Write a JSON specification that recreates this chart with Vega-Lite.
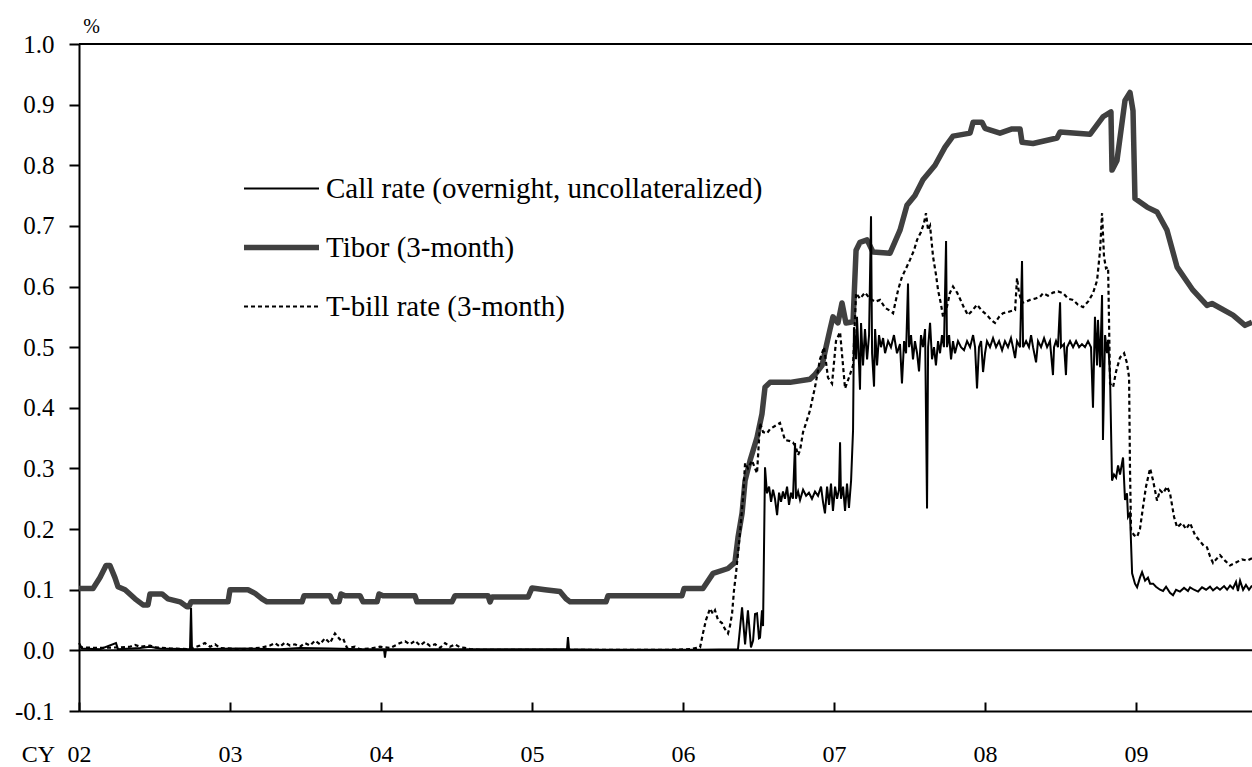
{
  "$schema": "https://vega.github.io/schema/vega-lite/v6.json",
  "width": 1173,
  "height": 667,
  "autosize": {"type": "none"},
  "padding": {"left": 79, "top": 44, "right": 0, "bottom": 56},
  "background": "white",
  "config": {"font": "Liberation Serif", "view": {"stroke": null}},
  "datasets": {
    "tibor": [
      {"year": 2002.000, "rate": 0.102}, {"year": 2002.093, "rate": 0.102}, {"year": 2002.139, "rate": 0.12}, {"year": 2002.179, "rate": 0.14},
      {"year": 2002.205, "rate": 0.14}, {"year": 2002.238, "rate": 0.12}, {"year": 2002.258, "rate": 0.105}, {"year": 2002.305, "rate": 0.1},
      {"year": 2002.371, "rate": 0.085}, {"year": 2002.424, "rate": 0.075}, {"year": 2002.457, "rate": 0.075}, {"year": 2002.470, "rate": 0.093},
      {"year": 2002.550, "rate": 0.093}, {"year": 2002.589, "rate": 0.085}, {"year": 2002.669, "rate": 0.08}, {"year": 2002.715, "rate": 0.072},
      {"year": 2002.728, "rate": 0.072}, {"year": 2002.742, "rate": 0.08}, {"year": 2002.987, "rate": 0.08}, {"year": 2003.000, "rate": 0.1},
      {"year": 2003.119, "rate": 0.1}, {"year": 2003.166, "rate": 0.094}, {"year": 2003.212, "rate": 0.085}, {"year": 2003.245, "rate": 0.08},
      {"year": 2003.477, "rate": 0.08}, {"year": 2003.490, "rate": 0.09}, {"year": 2003.662, "rate": 0.09}, {"year": 2003.682, "rate": 0.08},
      {"year": 2003.722, "rate": 0.08}, {"year": 2003.735, "rate": 0.093}, {"year": 2003.762, "rate": 0.09}, {"year": 2003.861, "rate": 0.09},
      {"year": 2003.881, "rate": 0.08}, {"year": 2003.974, "rate": 0.08}, {"year": 2003.987, "rate": 0.093}, {"year": 2004.013, "rate": 0.09},
      {"year": 2004.225, "rate": 0.09}, {"year": 2004.238, "rate": 0.08}, {"year": 2004.470, "rate": 0.08}, {"year": 2004.490, "rate": 0.09},
      {"year": 2004.709, "rate": 0.09}, {"year": 2004.722, "rate": 0.08}, {"year": 2004.735, "rate": 0.088}, {"year": 2004.974, "rate": 0.088},
      {"year": 2005.000, "rate": 0.103}, {"year": 2005.086, "rate": 0.1}, {"year": 2005.185, "rate": 0.097}, {"year": 2005.225, "rate": 0.085},
      {"year": 2005.252, "rate": 0.08}, {"year": 2005.490, "rate": 0.08}, {"year": 2005.503, "rate": 0.09}, {"year": 2005.993, "rate": 0.09},
      {"year": 2006.007, "rate": 0.102}, {"year": 2006.132, "rate": 0.102}, {"year": 2006.199, "rate": 0.127}, {"year": 2006.298, "rate": 0.135},
      {"year": 2006.344, "rate": 0.145}, {"year": 2006.364, "rate": 0.186}, {"year": 2006.391, "rate": 0.226}, {"year": 2006.411, "rate": 0.28},
      {"year": 2006.444, "rate": 0.313}, {"year": 2006.490, "rate": 0.351}, {"year": 2006.523, "rate": 0.39}, {"year": 2006.543, "rate": 0.434},
      {"year": 2006.576, "rate": 0.442}, {"year": 2006.709, "rate": 0.442}, {"year": 2006.841, "rate": 0.447}, {"year": 2006.874, "rate": 0.455},
      {"year": 2006.921, "rate": 0.47}, {"year": 2006.947, "rate": 0.5}, {"year": 2006.974, "rate": 0.53}, {"year": 2006.993, "rate": 0.55},
      {"year": 2007.026, "rate": 0.54}, {"year": 2007.053, "rate": 0.573}, {"year": 2007.079, "rate": 0.54}, {"year": 2007.126, "rate": 0.542},
      {"year": 2007.146, "rate": 0.66}, {"year": 2007.172, "rate": 0.673}, {"year": 2007.219, "rate": 0.677}, {"year": 2007.258, "rate": 0.657},
      {"year": 2007.371, "rate": 0.655}, {"year": 2007.437, "rate": 0.693}, {"year": 2007.483, "rate": 0.734}, {"year": 2007.536, "rate": 0.75},
      {"year": 2007.589, "rate": 0.776}, {"year": 2007.669, "rate": 0.8}, {"year": 2007.735, "rate": 0.83}, {"year": 2007.788, "rate": 0.848},
      {"year": 2007.901, "rate": 0.853}, {"year": 2007.921, "rate": 0.871}, {"year": 2007.980, "rate": 0.871}, {"year": 2008.000, "rate": 0.861},
      {"year": 2008.099, "rate": 0.853}, {"year": 2008.179, "rate": 0.86}, {"year": 2008.232, "rate": 0.86}, {"year": 2008.245, "rate": 0.838},
      {"year": 2008.318, "rate": 0.836}, {"year": 2008.477, "rate": 0.845}, {"year": 2008.497, "rate": 0.855}, {"year": 2008.695, "rate": 0.851},
      {"year": 2008.781, "rate": 0.88}, {"year": 2008.834, "rate": 0.888}, {"year": 2008.841, "rate": 0.792}, {"year": 2008.874, "rate": 0.808},
      {"year": 2008.927, "rate": 0.907}, {"year": 2008.960, "rate": 0.92}, {"year": 2008.980, "rate": 0.89}, {"year": 2008.993, "rate": 0.745},
      {"year": 2009.073, "rate": 0.731}, {"year": 2009.139, "rate": 0.723}, {"year": 2009.205, "rate": 0.693}, {"year": 2009.272, "rate": 0.632},
      {"year": 2009.377, "rate": 0.594}, {"year": 2009.470, "rate": 0.569}, {"year": 2009.503, "rate": 0.572}, {"year": 2009.642, "rate": 0.553},
      {"year": 2009.722, "rate": 0.536}, {"year": 2009.768, "rate": 0.541}
    ],
    "tbill": [
      {"year": 2002.000, "rate": 0.005}, {"year": 2002.139, "rate": 0.004}, {"year": 2002.272, "rate": 0.005}, {"year": 2002.338, "rate": 0.006},
      {"year": 2002.371, "rate": 0.009}, {"year": 2002.404, "rate": 0.006}, {"year": 2002.470, "rate": 0.008}, {"year": 2002.503, "rate": 0.005},
      {"year": 2002.603, "rate": 0.003}, {"year": 2002.735, "rate": 0.002}, {"year": 2002.801, "rate": 0.008}, {"year": 2002.834, "rate": 0.012},
      {"year": 2002.868, "rate": 0.006}, {"year": 2002.901, "rate": 0.01}, {"year": 2002.934, "rate": 0.004}, {"year": 2003.066, "rate": 0.002},
      {"year": 2003.199, "rate": 0.004}, {"year": 2003.265, "rate": 0.008}, {"year": 2003.298, "rate": 0.012}, {"year": 2003.331, "rate": 0.006},
      {"year": 2003.364, "rate": 0.013}, {"year": 2003.397, "rate": 0.008}, {"year": 2003.430, "rate": 0.01}, {"year": 2003.464, "rate": 0.006},
      {"year": 2003.497, "rate": 0.012}, {"year": 2003.530, "rate": 0.008}, {"year": 2003.563, "rate": 0.016}, {"year": 2003.596, "rate": 0.01},
      {"year": 2003.629, "rate": 0.02}, {"year": 2003.662, "rate": 0.012}, {"year": 2003.695, "rate": 0.028}, {"year": 2003.728, "rate": 0.018},
      {"year": 2003.748, "rate": 0.02}, {"year": 2003.775, "rate": 0.004}, {"year": 2003.828, "rate": 0.006}, {"year": 2003.861, "rate": 0.002},
      {"year": 2003.927, "rate": 0.003}, {"year": 2003.993, "rate": 0.006}, {"year": 2004.060, "rate": 0.004}, {"year": 2004.126, "rate": 0.012},
      {"year": 2004.159, "rate": 0.015}, {"year": 2004.192, "rate": 0.01}, {"year": 2004.225, "rate": 0.016}, {"year": 2004.258, "rate": 0.008},
      {"year": 2004.291, "rate": 0.014}, {"year": 2004.325, "rate": 0.007}, {"year": 2004.358, "rate": 0.01}, {"year": 2004.391, "rate": 0.004},
      {"year": 2004.424, "rate": 0.012}, {"year": 2004.457, "rate": 0.006}, {"year": 2004.490, "rate": 0.01}, {"year": 2004.523, "rate": 0.005},
      {"year": 2004.556, "rate": 0.004}, {"year": 2004.589, "rate": 0.002}, {"year": 2004.656, "rate": 0.001}, {"year": 2005.185, "rate": 0.001},
      {"year": 2005.583, "rate": 0.001}, {"year": 2005.914, "rate": 0.001}, {"year": 2006.046, "rate": 0.002}, {"year": 2006.113, "rate": 0.005},
      {"year": 2006.132, "rate": 0.028}, {"year": 2006.152, "rate": 0.05}, {"year": 2006.179, "rate": 0.069}, {"year": 2006.199, "rate": 0.06},
      {"year": 2006.212, "rate": 0.066}, {"year": 2006.232, "rate": 0.05}, {"year": 2006.258, "rate": 0.045}, {"year": 2006.278, "rate": 0.035},
      {"year": 2006.298, "rate": 0.028}, {"year": 2006.311, "rate": 0.04}, {"year": 2006.325, "rate": 0.061}, {"year": 2006.338, "rate": 0.1},
      {"year": 2006.351, "rate": 0.127}, {"year": 2006.364, "rate": 0.16}, {"year": 2006.377, "rate": 0.193}, {"year": 2006.397, "rate": 0.25},
      {"year": 2006.411, "rate": 0.309}, {"year": 2006.430, "rate": 0.3}, {"year": 2006.457, "rate": 0.313}, {"year": 2006.477, "rate": 0.3},
      {"year": 2006.490, "rate": 0.292}, {"year": 2006.510, "rate": 0.375}, {"year": 2006.530, "rate": 0.36}, {"year": 2006.556, "rate": 0.358},
      {"year": 2006.576, "rate": 0.365}, {"year": 2006.609, "rate": 0.37}, {"year": 2006.642, "rate": 0.375}, {"year": 2006.675, "rate": 0.347},
      {"year": 2006.709, "rate": 0.345}, {"year": 2006.728, "rate": 0.343}, {"year": 2006.748, "rate": 0.335}, {"year": 2006.762, "rate": 0.322},
      {"year": 2006.775, "rate": 0.33}, {"year": 2006.795, "rate": 0.36}, {"year": 2006.815, "rate": 0.375}, {"year": 2006.841, "rate": 0.396},
      {"year": 2006.874, "rate": 0.434}, {"year": 2006.907, "rate": 0.48}, {"year": 2006.934, "rate": 0.5}, {"year": 2006.960, "rate": 0.45},
      {"year": 2006.987, "rate": 0.44}, {"year": 2007.013, "rate": 0.51}, {"year": 2007.040, "rate": 0.525}, {"year": 2007.073, "rate": 0.432},
      {"year": 2007.099, "rate": 0.45}, {"year": 2007.126, "rate": 0.47}, {"year": 2007.146, "rate": 0.589}, {"year": 2007.172, "rate": 0.58},
      {"year": 2007.205, "rate": 0.59}, {"year": 2007.238, "rate": 0.58}, {"year": 2007.272, "rate": 0.575}, {"year": 2007.305, "rate": 0.578},
      {"year": 2007.338, "rate": 0.565}, {"year": 2007.371, "rate": 0.56}, {"year": 2007.391, "rate": 0.556}, {"year": 2007.424, "rate": 0.594},
      {"year": 2007.450, "rate": 0.616}, {"year": 2007.477, "rate": 0.63}, {"year": 2007.503, "rate": 0.644}, {"year": 2007.530, "rate": 0.66},
      {"year": 2007.550, "rate": 0.677}, {"year": 2007.576, "rate": 0.69}, {"year": 2007.596, "rate": 0.705}, {"year": 2007.609, "rate": 0.721},
      {"year": 2007.623, "rate": 0.693}, {"year": 2007.636, "rate": 0.7}, {"year": 2007.656, "rate": 0.649}, {"year": 2007.675, "rate": 0.62},
      {"year": 2007.689, "rate": 0.594}, {"year": 2007.709, "rate": 0.57}, {"year": 2007.722, "rate": 0.55}, {"year": 2007.742, "rate": 0.56},
      {"year": 2007.768, "rate": 0.59}, {"year": 2007.788, "rate": 0.6}, {"year": 2007.815, "rate": 0.59}, {"year": 2007.834, "rate": 0.58},
      {"year": 2007.861, "rate": 0.565}, {"year": 2007.887, "rate": 0.553}, {"year": 2007.914, "rate": 0.56}, {"year": 2007.947, "rate": 0.57},
      {"year": 2007.980, "rate": 0.56}, {"year": 2008.013, "rate": 0.553}, {"year": 2008.040, "rate": 0.545}, {"year": 2008.066, "rate": 0.54},
      {"year": 2008.093, "rate": 0.55}, {"year": 2008.119, "rate": 0.556}, {"year": 2008.152, "rate": 0.558}, {"year": 2008.179, "rate": 0.56},
      {"year": 2008.199, "rate": 0.561}, {"year": 2008.212, "rate": 0.614}, {"year": 2008.225, "rate": 0.59}, {"year": 2008.245, "rate": 0.573},
      {"year": 2008.272, "rate": 0.575}, {"year": 2008.298, "rate": 0.578}, {"year": 2008.331, "rate": 0.58}, {"year": 2008.364, "rate": 0.583},
      {"year": 2008.384, "rate": 0.589}, {"year": 2008.417, "rate": 0.585}, {"year": 2008.450, "rate": 0.59}, {"year": 2008.483, "rate": 0.592},
      {"year": 2008.517, "rate": 0.589}, {"year": 2008.550, "rate": 0.58}, {"year": 2008.583, "rate": 0.578}, {"year": 2008.616, "rate": 0.57},
      {"year": 2008.649, "rate": 0.566}, {"year": 2008.682, "rate": 0.575}, {"year": 2008.715, "rate": 0.589}, {"year": 2008.742, "rate": 0.61},
      {"year": 2008.762, "rate": 0.66}, {"year": 2008.775, "rate": 0.721}, {"year": 2008.788, "rate": 0.649}, {"year": 2008.801, "rate": 0.63},
      {"year": 2008.815, "rate": 0.632}, {"year": 2008.821, "rate": 0.545}, {"year": 2008.828, "rate": 0.44}, {"year": 2008.848, "rate": 0.434},
      {"year": 2008.868, "rate": 0.46}, {"year": 2008.894, "rate": 0.483}, {"year": 2008.921, "rate": 0.49}, {"year": 2008.940, "rate": 0.474},
      {"year": 2008.954, "rate": 0.45}, {"year": 2008.960, "rate": 0.3}, {"year": 2008.967, "rate": 0.198}, {"year": 2008.987, "rate": 0.19},
      {"year": 2009.007, "rate": 0.187}, {"year": 2009.026, "rate": 0.2}, {"year": 2009.046, "rate": 0.236}, {"year": 2009.066, "rate": 0.27},
      {"year": 2009.093, "rate": 0.3}, {"year": 2009.113, "rate": 0.28}, {"year": 2009.139, "rate": 0.247}, {"year": 2009.159, "rate": 0.264},
      {"year": 2009.179, "rate": 0.259}, {"year": 2009.205, "rate": 0.27}, {"year": 2009.225, "rate": 0.259}, {"year": 2009.252, "rate": 0.22},
      {"year": 2009.272, "rate": 0.203}, {"year": 2009.305, "rate": 0.21}, {"year": 2009.331, "rate": 0.2}, {"year": 2009.358, "rate": 0.21},
      {"year": 2009.391, "rate": 0.19}, {"year": 2009.424, "rate": 0.18}, {"year": 2009.450, "rate": 0.172}, {"year": 2009.470, "rate": 0.17},
      {"year": 2009.490, "rate": 0.155}, {"year": 2009.510, "rate": 0.144}, {"year": 2009.530, "rate": 0.15}, {"year": 2009.556, "rate": 0.157},
      {"year": 2009.589, "rate": 0.148}, {"year": 2009.623, "rate": 0.14}, {"year": 2009.662, "rate": 0.145}, {"year": 2009.702, "rate": 0.15},
      {"year": 2009.735, "rate": 0.148}, {"year": 2009.768, "rate": 0.152}
    ],
    "call": [
      {"year": 2002.000, "rate": 0.012}, {"year": 2002.020, "rate": 0.003}, {"year": 2002.139, "rate": 0.002}, {"year": 2002.245, "rate": 0.012},
      {"year": 2002.258, "rate": 0.002}, {"year": 2002.404, "rate": 0.004}, {"year": 2002.470, "rate": 0.006}, {"year": 2002.536, "rate": 0.003},
      {"year": 2002.735, "rate": 0.002}, {"year": 2002.742, "rate": 0.07}, {"year": 2002.748, "rate": 0.002}, {"year": 2003.066, "rate": 0.003},
      {"year": 2003.331, "rate": 0.002}, {"year": 2003.464, "rate": 0.004}, {"year": 2003.662, "rate": 0.003}, {"year": 2003.861, "rate": 0.002},
      {"year": 2004.020, "rate": 0.002}, {"year": 2004.026, "rate": -0.012}, {"year": 2004.033, "rate": 0.002}, {"year": 2004.258, "rate": 0.002}, {"year": 2004.788, "rate": 0.002},
      {"year": 2005.232, "rate": 0.002}, {"year": 2005.238, "rate": 0.022}, {"year": 2005.245, "rate": 0.002}, {"year": 2005.450, "rate": 0.001},
      {"year": 2005.781, "rate": 0.001}, {"year": 2006.113, "rate": 0.001}, {"year": 2006.364, "rate": 0.002}, {"year": 2006.391, "rate": 0.071},
      {"year": 2006.411, "rate": 0.01}, {"year": 2006.430, "rate": 0.066}, {"year": 2006.450, "rate": 0.005}, {"year": 2006.464, "rate": 0.016},
      {"year": 2006.477, "rate": 0.06}, {"year": 2006.490, "rate": 0.061}, {"year": 2006.503, "rate": 0.02}, {"year": 2006.510, "rate": 0.021},
      {"year": 2006.523, "rate": 0.066}, {"year": 2006.530, "rate": 0.04}, {"year": 2006.543, "rate": 0.302}, {"year": 2006.556, "rate": 0.259},
      {"year": 2006.570, "rate": 0.27}, {"year": 2006.583, "rate": 0.245}, {"year": 2006.596, "rate": 0.265}, {"year": 2006.609, "rate": 0.25},
      {"year": 2006.623, "rate": 0.223}, {"year": 2006.636, "rate": 0.26}, {"year": 2006.649, "rate": 0.245}, {"year": 2006.662, "rate": 0.262},
      {"year": 2006.675, "rate": 0.25}, {"year": 2006.689, "rate": 0.27}, {"year": 2006.702, "rate": 0.24}, {"year": 2006.715, "rate": 0.26},
      {"year": 2006.728, "rate": 0.25}, {"year": 2006.742, "rate": 0.342}, {"year": 2006.748, "rate": 0.25}, {"year": 2006.762, "rate": 0.262},
      {"year": 2006.775, "rate": 0.248}, {"year": 2006.795, "rate": 0.265}, {"year": 2006.815, "rate": 0.255}, {"year": 2006.834, "rate": 0.26},
      {"year": 2006.854, "rate": 0.25}, {"year": 2006.874, "rate": 0.262}, {"year": 2006.894, "rate": 0.255}, {"year": 2006.914, "rate": 0.27},
      {"year": 2006.927, "rate": 0.245}, {"year": 2006.940, "rate": 0.226}, {"year": 2006.954, "rate": 0.27}, {"year": 2006.967, "rate": 0.24},
      {"year": 2006.980, "rate": 0.275}, {"year": 2006.993, "rate": 0.23}, {"year": 2007.007, "rate": 0.27}, {"year": 2007.020, "rate": 0.25},
      {"year": 2007.033, "rate": 0.265}, {"year": 2007.040, "rate": 0.343}, {"year": 2007.046, "rate": 0.25}, {"year": 2007.060, "rate": 0.27},
      {"year": 2007.073, "rate": 0.23}, {"year": 2007.086, "rate": 0.275}, {"year": 2007.099, "rate": 0.235}, {"year": 2007.113, "rate": 0.28},
      {"year": 2007.126, "rate": 0.363}, {"year": 2007.132, "rate": 0.533}, {"year": 2007.146, "rate": 0.48}, {"year": 2007.152, "rate": 0.55},
      {"year": 2007.166, "rate": 0.47}, {"year": 2007.172, "rate": 0.43}, {"year": 2007.179, "rate": 0.54}, {"year": 2007.192, "rate": 0.47},
      {"year": 2007.205, "rate": 0.53}, {"year": 2007.219, "rate": 0.48}, {"year": 2007.232, "rate": 0.52}, {"year": 2007.245, "rate": 0.716},
      {"year": 2007.252, "rate": 0.49}, {"year": 2007.265, "rate": 0.435}, {"year": 2007.272, "rate": 0.53}, {"year": 2007.285, "rate": 0.47},
      {"year": 2007.298, "rate": 0.52}, {"year": 2007.311, "rate": 0.5}, {"year": 2007.325, "rate": 0.515}, {"year": 2007.338, "rate": 0.49},
      {"year": 2007.358, "rate": 0.51}, {"year": 2007.377, "rate": 0.5}, {"year": 2007.397, "rate": 0.52}, {"year": 2007.417, "rate": 0.49},
      {"year": 2007.437, "rate": 0.505}, {"year": 2007.450, "rate": 0.44}, {"year": 2007.464, "rate": 0.51}, {"year": 2007.477, "rate": 0.49},
      {"year": 2007.490, "rate": 0.605}, {"year": 2007.497, "rate": 0.5}, {"year": 2007.510, "rate": 0.52}, {"year": 2007.523, "rate": 0.48},
      {"year": 2007.536, "rate": 0.51}, {"year": 2007.550, "rate": 0.49}, {"year": 2007.563, "rate": 0.46}, {"year": 2007.576, "rate": 0.52},
      {"year": 2007.589, "rate": 0.5}, {"year": 2007.603, "rate": 0.53}, {"year": 2007.616, "rate": 0.234}, {"year": 2007.623, "rate": 0.5},
      {"year": 2007.636, "rate": 0.54}, {"year": 2007.649, "rate": 0.48}, {"year": 2007.662, "rate": 0.5}, {"year": 2007.675, "rate": 0.47},
      {"year": 2007.689, "rate": 0.51}, {"year": 2007.702, "rate": 0.49}, {"year": 2007.715, "rate": 0.52}, {"year": 2007.728, "rate": 0.5},
      {"year": 2007.742, "rate": 0.675}, {"year": 2007.748, "rate": 0.5}, {"year": 2007.762, "rate": 0.52}, {"year": 2007.775, "rate": 0.48},
      {"year": 2007.788, "rate": 0.51}, {"year": 2007.801, "rate": 0.49}, {"year": 2007.821, "rate": 0.51}, {"year": 2007.841, "rate": 0.5},
      {"year": 2007.861, "rate": 0.495}, {"year": 2007.881, "rate": 0.51}, {"year": 2007.901, "rate": 0.5}, {"year": 2007.921, "rate": 0.52},
      {"year": 2007.934, "rate": 0.5}, {"year": 2007.947, "rate": 0.432}, {"year": 2007.960, "rate": 0.5}, {"year": 2007.974, "rate": 0.51},
      {"year": 2007.987, "rate": 0.459}, {"year": 2008.000, "rate": 0.49}, {"year": 2008.013, "rate": 0.51}, {"year": 2008.033, "rate": 0.5},
      {"year": 2008.053, "rate": 0.515}, {"year": 2008.073, "rate": 0.5}, {"year": 2008.093, "rate": 0.51}, {"year": 2008.113, "rate": 0.495},
      {"year": 2008.132, "rate": 0.51}, {"year": 2008.152, "rate": 0.5}, {"year": 2008.172, "rate": 0.515}, {"year": 2008.185, "rate": 0.5},
      {"year": 2008.199, "rate": 0.482}, {"year": 2008.212, "rate": 0.51}, {"year": 2008.232, "rate": 0.5}, {"year": 2008.245, "rate": 0.642},
      {"year": 2008.252, "rate": 0.5}, {"year": 2008.272, "rate": 0.51}, {"year": 2008.291, "rate": 0.5}, {"year": 2008.305, "rate": 0.52},
      {"year": 2008.318, "rate": 0.5}, {"year": 2008.338, "rate": 0.475}, {"year": 2008.351, "rate": 0.51}, {"year": 2008.371, "rate": 0.5},
      {"year": 2008.391, "rate": 0.515}, {"year": 2008.411, "rate": 0.5}, {"year": 2008.430, "rate": 0.51}, {"year": 2008.450, "rate": 0.454},
      {"year": 2008.457, "rate": 0.5}, {"year": 2008.470, "rate": 0.51}, {"year": 2008.483, "rate": 0.5}, {"year": 2008.497, "rate": 0.574},
      {"year": 2008.503, "rate": 0.5}, {"year": 2008.523, "rate": 0.505}, {"year": 2008.536, "rate": 0.454}, {"year": 2008.543, "rate": 0.5},
      {"year": 2008.563, "rate": 0.51}, {"year": 2008.583, "rate": 0.5}, {"year": 2008.603, "rate": 0.51}, {"year": 2008.623, "rate": 0.5},
      {"year": 2008.642, "rate": 0.505}, {"year": 2008.662, "rate": 0.5}, {"year": 2008.682, "rate": 0.51}, {"year": 2008.702, "rate": 0.5},
      {"year": 2008.715, "rate": 0.4}, {"year": 2008.728, "rate": 0.55}, {"year": 2008.742, "rate": 0.47}, {"year": 2008.748, "rate": 0.545},
      {"year": 2008.762, "rate": 0.467}, {"year": 2008.775, "rate": 0.586}, {"year": 2008.781, "rate": 0.347}, {"year": 2008.795, "rate": 0.52},
      {"year": 2008.808, "rate": 0.49}, {"year": 2008.815, "rate": 0.512}, {"year": 2008.828, "rate": 0.45}, {"year": 2008.841, "rate": 0.28},
      {"year": 2008.854, "rate": 0.29}, {"year": 2008.868, "rate": 0.285}, {"year": 2008.881, "rate": 0.305}, {"year": 2008.894, "rate": 0.29},
      {"year": 2008.914, "rate": 0.318}, {"year": 2008.927, "rate": 0.248}, {"year": 2008.940, "rate": 0.259}, {"year": 2008.947, "rate": 0.22},
      {"year": 2008.960, "rate": 0.226}, {"year": 2008.974, "rate": 0.127}, {"year": 2008.993, "rate": 0.11}, {"year": 2009.007, "rate": 0.104},
      {"year": 2009.026, "rate": 0.12}, {"year": 2009.040, "rate": 0.129}, {"year": 2009.060, "rate": 0.115}, {"year": 2009.079, "rate": 0.12},
      {"year": 2009.093, "rate": 0.11}, {"year": 2009.113, "rate": 0.11}, {"year": 2009.132, "rate": 0.105}, {"year": 2009.159, "rate": 0.1},
      {"year": 2009.179, "rate": 0.098}, {"year": 2009.199, "rate": 0.105}, {"year": 2009.225, "rate": 0.095}, {"year": 2009.245, "rate": 0.091},
      {"year": 2009.265, "rate": 0.1}, {"year": 2009.291, "rate": 0.097}, {"year": 2009.318, "rate": 0.103}, {"year": 2009.344, "rate": 0.098},
      {"year": 2009.358, "rate": 0.104}, {"year": 2009.384, "rate": 0.1}, {"year": 2009.411, "rate": 0.097}, {"year": 2009.437, "rate": 0.104},
      {"year": 2009.464, "rate": 0.1}, {"year": 2009.490, "rate": 0.105}, {"year": 2009.510, "rate": 0.099}, {"year": 2009.536, "rate": 0.104},
      {"year": 2009.556, "rate": 0.1}, {"year": 2009.583, "rate": 0.106}, {"year": 2009.603, "rate": 0.1}, {"year": 2009.623, "rate": 0.107},
      {"year": 2009.642, "rate": 0.102}, {"year": 2009.662, "rate": 0.113}, {"year": 2009.675, "rate": 0.098}, {"year": 2009.689, "rate": 0.115},
      {"year": 2009.709, "rate": 0.1}, {"year": 2009.728, "rate": 0.108}, {"year": 2009.748, "rate": 0.1}, {"year": 2009.768, "rate": 0.107}
    ]
  },
  "layer": [
    {
      "data": {"values": [{"rate": 0}, {"rate": 1.0}]},
      "mark": {"type": "rule", "color": "black", "strokeWidth": 2},
      "encoding": {"y": {"field": "rate", "type": "quantitative"}}
    },
    {
      "data": {"name": "tibor"},
      "mark": {"type": "line", "interpolate": "linear", "strokeWidth": 5.5, "strokeJoin": "round", "strokeCap": "butt"},
      "encoding": {
        "x": {"field": "year", "type": "quantitative"},
        "y": {"field": "rate", "type": "quantitative"},
        "color": {"datum": "Tibor (3-month)"}
      }
    },
    {
      "data": {"name": "tbill"},
      "mark": {"type": "line", "interpolate": "linear", "strokeWidth": 2.2, "strokeDash": [4, 3]},
      "encoding": {
        "x": {"field": "year", "type": "quantitative"},
        "y": {"field": "rate", "type": "quantitative"},
        "color": {"datum": "T-bill rate (3-month)"}
      }
    },
    {
      "data": {"name": "call"},
      "mark": {"type": "line", "interpolate": "linear", "strokeWidth": 2, "strokeJoin": "miter"},
      "encoding": {
        "x": {
          "field": "year", "type": "quantitative",
          "scale": {"domain": [2002, 2009.768], "nice": false, "zero": false},
          "axis": {
            "values": [2002, 2003, 2004, 2005, 2006, 2007, 2008, 2009],
            "labelExpr": "substring(toString(datum.value), 2)",
            "grid": false,
            "domainColor": "black", "domainWidth": 2,
            "tickColor": "black", "tickWidth": 2, "tickSize": -9,
            "labelFont": "Liberation Serif", "labelFontSize": 24, "labelColor": "black",
            "labelBaseline": "top", "labelPadding": 40, "labelFlush": false, "labelOverlap": false,
            "title": "CY", "titleFont": "Liberation Serif", "titleFontSize": 24, "titleFontWeight": "normal", "titleColor": "black",
            "titleX": -41, "titleY": 50, "titleAlign": "center", "titleBaseline": "alphabetic"
          }
        },
        "y": {
          "field": "rate", "type": "quantitative",
          "scale": {"domain": [-0.1, 1.0], "nice": false, "zero": false},
          "axis": {
            "values": [-0.1, 0, 0.1, 0.2, 0.3, 0.4, 0.5, 0.6, 0.7, 0.8, 0.9, 1.0],
            "labelExpr": "datum.value < 0 ? '-0.1' : format(datum.value, '.1f')",
            "grid": false,
            "domainColor": "black", "domainWidth": 2,
            "tickColor": "black", "tickWidth": 2, "tickSize": 10,
            "labelFont": "Liberation Serif", "labelFontSize": 25, "labelColor": "black", "labelPadding": 15,
            "title": "%", "titleFont": "Liberation Serif", "titleFontSize": 20, "titleFontWeight": "normal", "titleColor": "black",
            "titleAngle": 0, "titleX": 12, "titleY": -12, "titleAlign": "center", "titleBaseline": "alphabetic"
          }
        },
        "color": {
          "datum": "Call rate (overnight, uncollateralized)",
          "scale": {"domain": ["Call rate (overnight, uncollateralized)", "Tibor (3-month)", "T-bill rate (3-month)"], "range": ["#000000", "#404040", "#000000"]},
          "legend": {
            "title": null, "orient": "none", "legendX": 188, "legendY": 130,
            "symbolType": "stroke", "symbolSize": 5625, "labelOffset": 30, "rowPadding": 29,
            "labelFont": "Liberation Serif", "labelFontSize": 29, "labelColor": "black", "labelLimit": 0,
            "encode": {
              "symbols": {
                "update": {
                  "strokeWidth": {"signal": "datum.value === 'Tibor (3-month)' ? 5.5 : 2"},
                  "strokeDash": {"signal": "datum.value === 'T-bill rate (3-month)' ? [4, 3] : [1, 0]"}
                }
              }
            }
          }
        }
      }
    }
  ]
}
